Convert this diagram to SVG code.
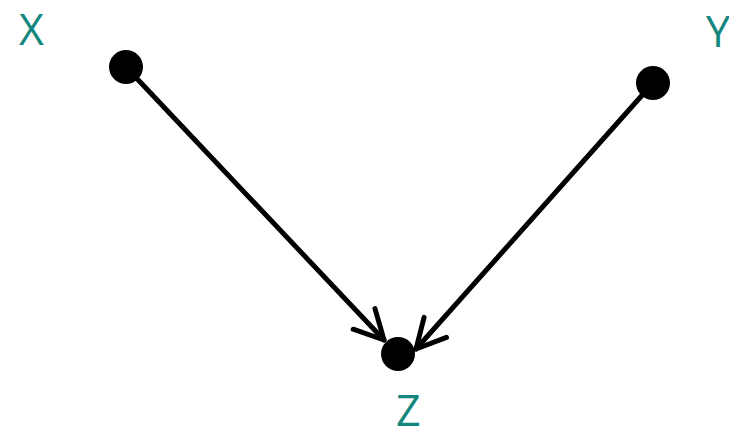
<svg xmlns="http://www.w3.org/2000/svg" width="729" height="429" viewBox="0 0 729 429">
<defs>
<style>
.node{fill:#000}
.lbl{font-family:"Open Sans","Noto Sans",sans-serif;font-size:43px;fill:#13877e}
.edge{stroke:#000;stroke-width:5;fill:none;stroke-linecap:round}
</style>
<marker id="arr" markerUnits="userSpaceOnUse" markerWidth="40" markerHeight="40" viewBox="-35 -20 40 40" refX="0" refY="0" orient="auto" overflow="visible">
<path d="M-29,-15 L0,0 L-29,15" stroke="#000" stroke-width="5" fill="none" stroke-linecap="round" stroke-linejoin="round"/>
</marker>
</defs>
<g id="edges">
<line class="edge" x1="126" y1="67" x2="384" y2="340" marker-end="url(#arr)"/>
<line class="edge" x1="653" y1="83" x2="416" y2="349" marker-end="url(#arr)"/>
</g>
<g id="X"><circle class="node" cx="126" cy="67" r="17"/><text class="lbl" x="19" y="45">X</text></g>
<g id="Y"><circle class="node" cx="653" cy="83" r="17"/><text class="lbl" x="706" y="47">Y</text></g>
<g id="Z"><circle class="node" cx="398" cy="354" r="17"/><text class="lbl" x="396" y="426">Z</text></g>
</svg>
